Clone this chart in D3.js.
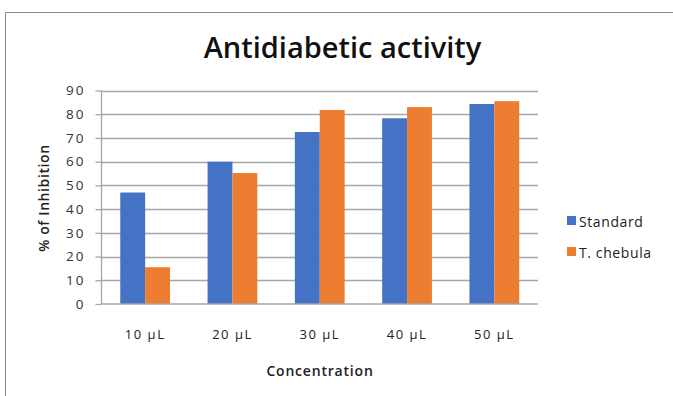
<!DOCTYPE html>
<html><head><meta charset="utf-8">
<script src="https://cdn.jsdelivr.net/npm/d3@7/dist/d3.min.js"></script>
<style>body{margin:0;background:#fff}svg{display:block}</style>
</head><body>
<script>
const categories = ["10 µL","20 µL","30 µL","40 µL","50 µL"];
const seriesNames = ["Standard","T. chebula"];
const standard = [47, 60, 72.5, 78.3, 84.3];
const tchebula = [15.5, 55.2, 81.8, 83, 85.5];
const yTicks = [0,10,20,30,40,50,60,70,80,90];
const colors = ["#4472C4","#ED7D31"];

const W = 673, H = 396;
const svg = d3.select("body").append("svg").attr("width", W).attr("height", H);
const font = "'Open Sans', 'Noto Sans', sans-serif";

// chart border (left and top visible)
svg.append("path").attr("d", "M5.5,396 V12.5 H673").attr("fill","none").attr("stroke","#888").attr("stroke-width",1);

const pLeft = 101.5, pRight = 538, pTop = 90.5, pBottom = 304;
const x = d3.scaleBand().domain(categories).range([pLeft, pRight]).paddingInner(0.43).paddingOuter(0.215);
const xs = d3.scaleBand().domain(seriesNames).range([0, x.bandwidth()]);
const y = d3.scaleLinear().domain([0, 90]).range([pBottom, pTop]);

// gridlines
svg.append("g").selectAll("line").data(yTicks.filter(d => d > 0)).join("line")
  .attr("x1", pLeft).attr("x2", pRight)
  .attr("y1", d => Math.round(y(d)) + 0.5).attr("y2", d => Math.round(y(d)) + 0.5)
  .attr("stroke", "#a6a6a6").attr("stroke-width", 1.3);

// y axis
const yAxis = svg.append("g").attr("transform", `translate(${pLeft},0)`)
  .call(d3.axisLeft(y).tickValues(yTicks).tickSize(6).tickPadding(10));
yAxis.select(".domain").attr("stroke", "#a6a6a6").attr("stroke-width", 1.3).attr("d", `M-0,${pTop}V${pBottom}`);
yAxis.selectAll(".tick line").attr("stroke", "#a6a6a6").attr("stroke-width", 1.3);
yAxis.selectAll("text").attr("font-family", font).attr("font-size", 13.5).attr("letter-spacing", 2).attr("fill", "#333");

// bars
const data = categories.map((c, i) => ({c, vals: [standard[i], tchebula[i]]}));
const groups = svg.append("g").selectAll("g").data(data).join("g")
  .attr("transform", d => `translate(${x(d.c)},0)`);
groups.selectAll("rect").data(d => d.vals.map((v, j) => ({name: seriesNames[j], v, j}))).join("rect")
  .attr("x", d => xs(d.name)).attr("width", xs.bandwidth())
  .attr("y", d => y(d.v)).attr("height", d => y(0) - y(d.v))
  .attr("fill", d => colors[d.j]);

// x axis
const xAxis = svg.append("g").attr("transform", `translate(0,${pBottom})`)
  .call(d3.axisBottom(x).tickSize(0).tickPadding(26));
xAxis.select(".domain").attr("stroke", "#a6a6a6").attr("stroke-width", 1.3).attr("d", `M${pLeft},0H${pRight}`);
xAxis.selectAll("text").attr("font-family", font).attr("font-size", 13).attr("letter-spacing", 1.5).attr("fill", "#222");

// title
svg.append("text").attr("x", 342.5).attr("y", 58).attr("text-anchor", "middle")
  .attr("font-family", font).attr("font-weight", "600").attr("font-size", 29).attr("fill", "#111")
  .text("Antidiabetic activity");

// axis titles
svg.append("text").attr("x", 320).attr("y", 376).attr("text-anchor", "middle")
  .attr("font-family", font).attr("font-weight", "600").attr("font-size", 14).attr("letter-spacing", 0.8).attr("fill", "#222")
  .text("Concentration");
svg.append("text").attr("transform", "translate(49,198) rotate(-90)").attr("text-anchor", "middle")
  .attr("font-family", font).attr("font-weight", "600").attr("font-size", 14).attr("letter-spacing", 0.6).attr("fill", "#222")
  .text("% of Inhibition");

// legend
const lg = svg.append("g").selectAll("g").data(seriesNames).join("g")
  .attr("transform", (d, i) => `translate(567,${216 + i * 31})`);
lg.append("rect").attr("width", 9).attr("height", 9).attr("fill", (d, i) => colors[i]);
lg.append("text").attr("x", 12).attr("y", 10.5).attr("font-family", font).attr("font-size", 14).attr("letter-spacing", 0.6).attr("fill", "#222")
  .text(d => d);
</script>
</body></html>
